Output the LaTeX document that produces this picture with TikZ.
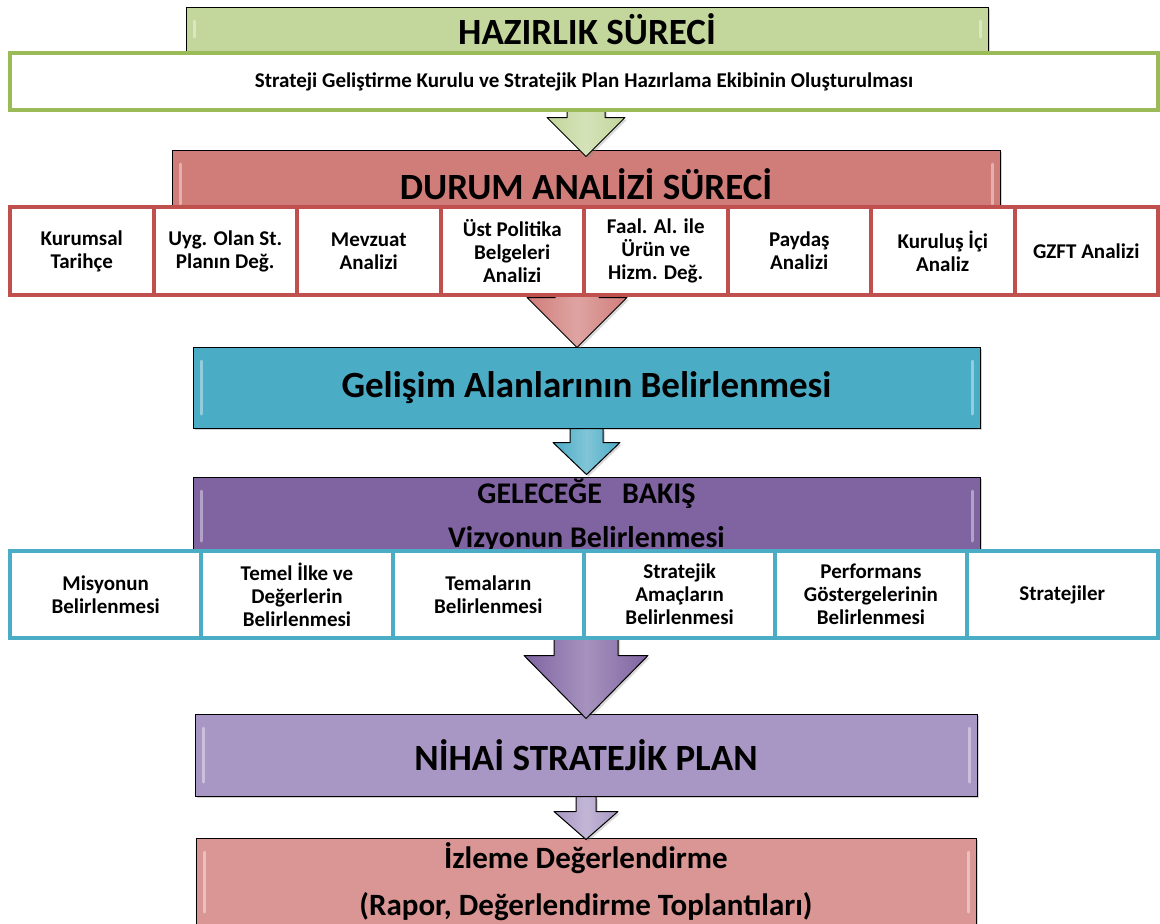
\documentclass[tikz,border=0pt]{standalone}
\usepackage{fontspec}
\setmainfont{Carlito}
\usetikzlibrary{calc,shadows}
\definecolor{HazGreen}{HTML}{C3D69B}
\definecolor{HazLine}{HTML}{9BBB59}
\definecolor{DurRed}{HTML}{D07D7A}
\definecolor{DurLine}{HTML}{C0504D}
\definecolor{GelBlue}{HTML}{4BACC6}
\definecolor{GelPurple}{HTML}{8064A2}
\definecolor{NihPurple}{HTML}{A897C4}
\definecolor{IzlPink}{HTML}{D99694}
\newcommand\bigfont{\bfseries\fontsize{37}{42}\selectfont}
\newcommand\midfont[1]{\bfseries\fontsize{#1}{#1}\selectfont}
\newcommand\cellfont{\bfseries\fontsize{21}{23}\selectfont}
% block arrow: [tip shift] {start anchor} {target} {half shaft} {half head} {head length} {colour}
\newcommand\bigarrow[7][(0,0)]{%
  \coordinate (tip) at ($(#3.north)+#1$);
  \draw[blockarrow=#7]
    ($(#2 -| tip)+(-#4,0)$) -- ($(tip)+(-#4,-#6)$) -- ($(tip)+(-#5,-#6)$) -- (tip)
    -- ($(tip)+(#5,-#6)$) -- ($(tip)+(#4,-#6)$) -- ($(#2 -| tip)+(#4,0)$) -- cycle;}
\tikzset{
  header/.style={draw=black, line width=1pt, fill=#1, inner sep=0pt, align=center,
    drop shadow={opacity=.35, shadow xshift=2pt, shadow yshift=-2pt},
    path picture={\draw[white, opacity=.4, line width=3pt, line cap=round]
      ([xshift=8pt,yshift=-14pt]path picture bounding box.north west)
        -- ([xshift=8pt,yshift=14pt]path picture bounding box.south west)
      ([xshift=-8pt,yshift=-14pt]path picture bounding box.north east)
        -- ([xshift=-8pt,yshift=14pt]path picture bounding box.south east);}},
  blockarrow/.style={draw=black, line width=1pt, line join=round,
    left color=#1, right color=#1, middle color=#1!70!white,
    drop shadow={opacity=.3, shadow xshift=2pt, shadow yshift=-2pt}},
  cell/.style 2 args={draw=#1, line width=4pt, fill=white, minimum width=#2,
    inner sep=0pt, align=center, font=\cellfont}
}
\begin{document}
\begin{tikzpicture}[x=1pt, y=-1pt]
\useasboundingbox (0,0) rectangle (1160,924);

% process headers
\node[header=HazGreen, minimum width=802pt, minimum height=44pt, font=\bigfont]
  (hazirlik) at (587,29) {HAZIRLIK SÜRECİ};
\node[header=DurRed, minimum width=828pt, minimum height=68pt, font=\bigfont]
  (durum) at (586,184) {DURUM ANALİZİ SÜRECİ};
\node[header=GelBlue, minimum width=787pt, minimum height=81pt, font=\bigfont]
  (gelisim) at (586.5,387.5) {Gelişim Alanlarının Belirlenmesi};
\node[header=GelPurple, minimum width=787pt, minimum height=78pt,
  font=\bfseries\fontsize{30}{44}\selectfont]
  (gelecek) at (586.5,516) {GELECEĞE\ \ \ BAKIŞ\\Vizyonun Belirlenmesi};
\node[header=NihPurple, minimum width=782pt, minimum height=82pt, font=\bigfont]
  (nihai) at (586,755) {NİHAİ STRATEJİK PLAN};
\node[header=IzlPink, minimum width=780pt, minimum height=88pt,
  font=\bfseries\fontsize{31}{47}\selectfont]
  (izleme) at (586,882) {İzleme Değerlendirme\\(Rapor, Değerlendirme Toplantıları)};

% arrows
\bigarrow[(0,7)]{hazirlik.south}{durum}{19}{39}{39}{HazGreen}
\bigarrow[(-9.5,1)]{durum.south}{gelisim}{22}{50}{50}{DurRed}
\bigarrow[(0,-2)]{gelisim.south}{gelecek}{16.5}{33.5}{32}{GelBlue}
\bigarrow[(0,5)]{gelecek.south}{nihai}{32}{62}{63}{GelPurple}
\bigarrow[(0,2)]{nihai.south}{izleme}{10}{32}{28}{NihPurple}

% rows
\node[draw=HazLine, line width=4pt, fill=white, minimum width=1148pt,
  minimum height=57pt, font=\midfont{21}] (kurul) at (584,81.5)
  {Strateji Geliştirme Kurulu ve Stratejik Plan Hazırlama Ekibinin Oluşturulması};
\foreach \txt [count=\i] in {Kurumsal\\Tarihçe, Uyg. Olan St.\\Planın Değ.,
  Mevzuat\\Analizi, Üst Politika\\Belgeleri\\Analizi,
  Faal. Al. ile\\Ürün ve\\Hizm. Değ., Paydaş\\Analizi,
  Kuruluş İçi\\Analiz, GZFT Analizi}
  \node[cell={DurLine}{143.5pt}, minimum height=88pt] (analiz\i)
    at ({-61.75+143.5*\i},251) {\txt};
\foreach \txt [count=\i] in {Misyonun\\Belirlenmesi,
  Temel İlke ve\\Değerlerin\\Belirlenmesi, Temaların\\Belirlenmesi,
  Stratejik\\Amaçların\\Belirlenmesi, Performans\\Göstergelerinin\\Belirlenmesi,
  Stratejiler}
  \node[cell={GelBlue}{191.33pt}, minimum height=87pt] (hedef\i)
    at ({-85.67+191.33*\i},594.5) {\txt};
\end{tikzpicture}
\end{document}
